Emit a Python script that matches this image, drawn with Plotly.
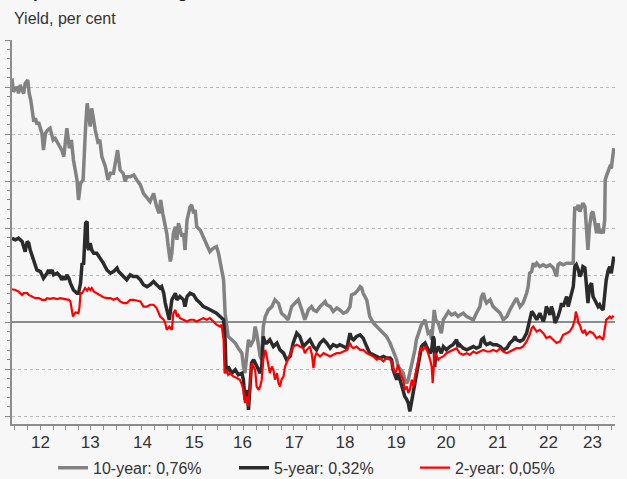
import plotly.graph_objects as go
import pandas as pd

# ---------------- data (decimal years, yields in per cent) ----------------
t10 = [2011.94, 2011.97, 2012.04, 2012.07, 2012.10, 2012.17, 2012.20, 2012.25, 2012.28, 2012.31,
       2012.37, 2012.40, 2012.43, 2012.47, 2012.53, 2012.56, 2012.60, 2012.64, 2012.69, 2012.75,
       2012.79, 2012.86, 2012.92, 2012.96, 2013.02, 2013.07, 2013.11, 2013.15, 2013.19, 2013.22,
       2013.25, 2013.29, 2013.34, 2013.36, 2013.39, 2013.42, 2013.45, 2013.48, 2013.51, 2013.55,
       2013.58, 2013.63, 2013.67, 2013.71, 2013.78, 2013.83, 2013.88, 2013.94, 2013.97, 2014.02,
       2014.07, 2014.13, 2014.17, 2014.20, 2014.27, 2014.34, 2014.40, 2014.47, 2014.53, 2014.60,
       2014.66, 2014.73, 2014.79, 2014.84, 2014.87, 2014.91, 2014.95, 2014.99, 2015.02, 2015.06,
       2015.09, 2015.12, 2015.16, 2015.19, 2015.22, 2015.29, 2015.32, 2015.35, 2015.39, 2015.45,
       2015.48, 2015.52, 2015.55, 2015.58, 2015.65, 2015.71, 2015.78, 2015.84, 2015.91, 2015.97,
       2016.01, 2016.04, 2016.07, 2016.11, 2016.14, 2016.17, 2016.20, 2016.27, 2016.34, 2016.40,
       2016.47, 2016.50, 2016.53, 2016.57, 2016.60, 2016.63, 2016.70, 2016.73, 2016.76, 2016.80,
       2016.83, 2016.86, 2016.89, 2016.93, 2016.99, 2017.06, 2017.12, 2017.19, 2017.25, 2017.32,
       2017.38, 2017.45, 2017.52, 2017.58, 2017.65, 2017.71, 2017.78, 2017.84, 2017.88, 2017.94,
       2018.01, 2018.08, 2018.11, 2018.14, 2018.21, 2018.27, 2018.34, 2018.40, 2018.47, 2018.54,
       2018.60, 2018.63, 2018.70, 2018.76, 2018.80, 2018.83, 2018.86, 2018.93, 2018.99, 2019.06,
       2019.13, 2019.19, 2019.26, 2019.32, 2019.39, 2019.45, 2019.52, 2019.55, 2019.59, 2019.65,
       2019.68, 2019.72, 2019.75, 2019.78, 2019.82, 2019.85, 2019.88, 2019.91, 2019.95, 2019.98,
       2020.01, 2020.04, 2020.08, 2020.11, 2020.14, 2020.18, 2020.21, 2020.24, 2020.26, 2020.29,
       2020.34, 2020.37, 2020.40, 2020.44, 2020.47, 2020.50, 2020.54, 2020.60, 2020.67, 2020.73,
       2020.77, 2020.83, 2020.90, 2020.96, 2021.03, 2021.09, 2021.16, 2021.19, 2021.23, 2021.26,
       2021.29, 2021.36, 2021.42, 2021.49, 2021.56, 2021.62, 2021.69, 2021.75, 2021.82, 2021.85,
       2021.88, 2021.95, 2022.01, 2022.08, 2022.11, 2022.14, 2022.18, 2022.21, 2022.24, 2022.28,
       2022.34, 2022.41, 2022.47, 2022.54, 2022.61, 2022.67, 2022.70, 2022.74, 2022.80, 2022.87,
       2022.93, 2023.00, 2023.02, 2023.03, 2023.06, 2023.10, 2023.13, 2023.19, 2023.23, 2023.26,
       2023.29, 2023.32, 2023.36, 2023.39, 2023.42, 2023.46, 2023.49, 2023.52, 2023.55, 2023.59,
       2023.62, 2023.63, 2023.65, 2023.69, 2023.72, 2023.75, 2023.78, 2023.80]
y10 = [1.037, 0.980, 1.002, 0.973, 1.009, 0.973, 1.016, 1.030, 0.973, 0.945,
       0.853, 0.867, 0.846, 0.846, 0.803, 0.732, 0.803, 0.817, 0.825, 0.775,
       0.782, 0.754, 0.732, 0.704, 0.825, 0.740, 0.775, 0.690, 0.647, 0.605,
       0.520, 0.591, 0.605, 0.718, 0.832, 0.931, 0.874, 0.832, 0.910, 0.846,
       0.817, 0.768, 0.775, 0.704, 0.661, 0.605, 0.633, 0.633, 0.676, 0.732,
       0.647, 0.633, 0.598, 0.619, 0.619, 0.626, 0.605, 0.584, 0.548, 0.527,
       0.513, 0.548, 0.491, 0.463, 0.520, 0.463, 0.421, 0.378, 0.321, 0.258,
       0.293, 0.378, 0.406, 0.350, 0.421, 0.364, 0.378, 0.307, 0.435, 0.491,
       0.499, 0.463, 0.477, 0.406, 0.392, 0.364, 0.336, 0.300, 0.315, 0.321,
       0.293, 0.258, 0.222, 0.180, 0.038, -0.019, -0.061, -0.075, -0.089, -0.111,
       -0.132, -0.189, -0.217, -0.132, -0.075, -0.104, -0.075, -0.019, -0.047, -0.104,
       -0.146, -0.160, -0.019, 0.024, 0.052, 0.066, 0.095, 0.080, 0.038, 0.024,
       0.010, 0.066, 0.081, 0.095, 0.052, 0.010, 0.052, 0.066, 0.052, 0.045,
       0.066, 0.081, 0.088, 0.074, 0.066, 0.045, 0.060, 0.052, 0.038, 0.045,
       0.066, 0.116, 0.123, 0.137, 0.151, 0.145, 0.123, 0.095, 0.024, -0.004,
       -0.019, -0.033, -0.047, -0.061, -0.089, -0.118, -0.160, -0.189, -0.203, -0.217,
       -0.245, -0.260, -0.245, -0.217, -0.189, -0.160, -0.118, -0.075, -0.047, -0.026,
       -0.011, -0.004, 0.010, -0.019, -0.047, -0.040, -0.075, -0.004, 0.052, 0.010,
       -0.004, -0.026, -0.047, 0.010, 0.024, 0.031, 0.045, 0.031, 0.038, 0.024,
       0.031, 0.038, 0.024, 0.017, 0.010, 0.038, 0.066, 0.109, 0.123, 0.095,
       0.081, 0.095, 0.066, 0.052, 0.038, 0.010, 0.024, 0.052, 0.081, 0.095,
       0.102, 0.066, 0.081, 0.123, 0.151, 0.208, 0.215, 0.251, 0.236, 0.251,
       0.236, 0.244, 0.236, 0.244, 0.230, 0.194, 0.244, 0.251, 0.244, 0.251,
       0.251, 0.251, 0.435, 0.491, 0.477, 0.499, 0.470, 0.506, 0.491, 0.364,
       0.307, 0.406, 0.463, 0.470, 0.421, 0.378, 0.421, 0.378, 0.392, 0.378,
       0.435, 0.605, 0.619, 0.640, 0.661, 0.655, 0.704, 0.740]

t5 = [2011.94, 2012.01, 2012.07, 2012.14, 2012.17, 2012.20, 2012.24, 2012.27, 2012.30, 2012.37,
      2012.43, 2012.50, 2012.56, 2012.63, 2012.66, 2012.69, 2012.73, 2012.76, 2012.83, 2012.89,
      2012.92, 2012.96, 2012.99, 2013.02, 2013.06, 2013.09, 2013.15, 2013.22, 2013.25, 2013.29,
      2013.32, 2013.35, 2013.39, 2013.42, 2013.43, 2013.45, 2013.48, 2013.51, 2013.55, 2013.61,
      2013.68, 2013.74, 2013.81, 2013.88, 2013.94, 2014.01, 2014.04, 2014.07, 2014.14, 2014.20,
      2014.27, 2014.33, 2014.40, 2014.47, 2014.53, 2014.60, 2014.66, 2014.73, 2014.79, 2014.86,
      2014.89, 2014.93, 2014.96, 2014.99, 2015.04, 2015.09, 2015.12, 2015.16, 2015.19, 2015.25,
      2015.32, 2015.35, 2015.39, 2015.45, 2015.52, 2015.58, 2015.65, 2015.71, 2015.78, 2015.84,
      2015.91, 2015.97, 2016.04, 2016.11, 2016.14, 2016.16, 2016.20, 2016.27, 2016.34, 2016.40,
      2016.47, 2016.50, 2016.53, 2016.57, 2016.60, 2016.63, 2016.66, 2016.70, 2016.73, 2016.76,
      2016.80, 2016.83, 2016.86, 2016.89, 2016.93, 2016.96, 2017.02, 2017.09, 2017.16, 2017.22,
      2017.29, 2017.35, 2017.42, 2017.48, 2017.55, 2017.61, 2017.68, 2017.75, 2017.81, 2017.88,
      2017.94, 2018.01, 2018.08, 2018.14, 2018.21, 2018.27, 2018.34, 2018.40, 2018.47, 2018.54,
      2018.60, 2018.63, 2018.67, 2018.73, 2018.80, 2018.86, 2018.93, 2018.99, 2019.06, 2019.13,
      2019.19, 2019.26, 2019.32, 2019.39, 2019.42, 2019.45, 2019.49, 2019.52, 2019.55, 2019.59,
      2019.62, 2019.65, 2019.68, 2019.72, 2019.75, 2019.78, 2019.82, 2019.85, 2019.88, 2019.91,
      2019.95, 2019.98, 2020.01, 2020.04, 2020.08, 2020.11, 2020.14, 2020.18, 2020.21, 2020.24,
      2020.26, 2020.27, 2020.29, 2020.34, 2020.37, 2020.40, 2020.44, 2020.47, 2020.50, 2020.57,
      2020.63, 2020.70, 2020.73, 2020.76, 2020.83, 2020.90, 2020.96, 2021.03, 2021.09, 2021.16,
      2021.19, 2021.23, 2021.26, 2021.29, 2021.36, 2021.42, 2021.49, 2021.56, 2021.62, 2021.69,
      2021.75, 2021.82, 2021.85, 2021.88, 2021.95, 2022.01, 2022.08, 2022.11, 2022.14, 2022.18,
      2022.21, 2022.24, 2022.28, 2022.34, 2022.41, 2022.44, 2022.47, 2022.50, 2022.54, 2022.57,
      2022.61, 2022.64, 2022.67, 2022.70, 2022.74, 2022.77, 2022.80, 2022.84, 2022.87, 2022.90,
      2022.93, 2022.96, 2023.00, 2023.03, 2023.06, 2023.10, 2023.13, 2023.16, 2023.19, 2023.23,
      2023.26, 2023.29, 2023.32, 2023.36, 2023.39, 2023.42, 2023.46, 2023.49, 2023.52, 2023.55,
      2023.59, 2023.62, 2023.63, 2023.65, 2023.69, 2023.72, 2023.75, 2023.78, 2023.80]
y5 = [0.357, 0.350, 0.357, 0.343, 0.321, 0.300, 0.343, 0.336, 0.307, 0.265,
      0.222, 0.215, 0.187, 0.208, 0.222, 0.208, 0.222, 0.201, 0.208, 0.194,
      0.180, 0.194, 0.180, 0.201, 0.187, 0.166, 0.137, 0.123, 0.123, 0.166,
      0.251, 0.244, 0.421, 0.428, 0.321, 0.307, 0.336, 0.307, 0.293, 0.293,
      0.272, 0.251, 0.222, 0.208, 0.215, 0.230, 0.215, 0.208, 0.194, 0.180,
      0.201, 0.194, 0.194, 0.180, 0.159, 0.151, 0.159, 0.173, 0.159, 0.145,
      0.151, 0.123, 0.081, 0.052, 0.010, 0.095, 0.109, 0.123, 0.095, 0.109,
      0.095, 0.066, 0.109, 0.123, 0.116, 0.095, 0.081, 0.066, 0.060, 0.052,
      0.045, 0.038, 0.024, 0.010, -0.075, -0.217, -0.189, -0.217, -0.203, -0.224,
      -0.217, -0.245, -0.330, -0.288, -0.373, -0.274, -0.174, -0.160, -0.174, -0.189,
      -0.203, -0.217, -0.189, -0.061, -0.089, -0.089, -0.075, -0.104, -0.089, -0.118,
      -0.132, -0.160, -0.146, -0.089, -0.047, -0.061, -0.104, -0.089, -0.075, -0.104,
      -0.118, -0.089, -0.075, -0.089, -0.111, -0.096, -0.104, -0.096, -0.104, -0.111,
      -0.047, -0.068, -0.075, -0.061, -0.054, -0.068, -0.104, -0.132, -0.139, -0.146,
      -0.153, -0.146, -0.153, -0.153, -0.160, -0.203, -0.231, -0.245, -0.217, -0.245,
      -0.274, -0.288, -0.316, -0.330, -0.344, -0.380, -0.330, -0.302, -0.245, -0.217,
      -0.160, -0.132, -0.104, -0.096, -0.089, -0.104, -0.118, -0.132, -0.118, -0.061,
      -0.075, -0.190, -0.132, -0.104, -0.118, -0.132, -0.104, -0.111, -0.118, -0.104,
      -0.096, -0.075, -0.104, -0.096, -0.111, -0.118, -0.111, -0.104, -0.111, -0.104,
      -0.075, -0.068, -0.089, -0.096, -0.089, -0.096, -0.096, -0.104, -0.118, -0.111,
      -0.089, -0.075, -0.061, -0.075, -0.082, -0.075, -0.047, -0.019, 0.024, 0.045,
      0.038, 0.024, 0.010, 0.038, 0.003, 0.024, 0.066, 0.052, 0.031, 0.066,
      0.038, -0.004, 0.010, 0.024, 0.052, 0.081, 0.066, 0.095, 0.109, 0.066,
      0.095, 0.123, 0.151, 0.236, 0.244, 0.222, 0.194, 0.208, 0.236, 0.230,
      0.137, 0.081, 0.151, 0.166, 0.109, 0.095, 0.081, 0.066, 0.074, 0.060,
      0.052, 0.109, 0.137, 0.180, 0.222, 0.236, 0.208, 0.265, 0.279]

t2 = [2011.94, 2012.01, 2012.07, 2012.14, 2012.17, 2012.24, 2012.27, 2012.33, 2012.40, 2012.47,
      2012.53, 2012.60, 2012.63, 2012.69, 2012.76, 2012.83, 2012.89, 2012.96, 2013.02, 2013.06,
      2013.09, 2013.11, 2013.14, 2013.19, 2013.25, 2013.27, 2013.29, 2013.32, 2013.38, 2013.42,
      2013.45, 2013.48, 2013.51, 2013.55, 2013.61, 2013.68, 2013.74, 2013.81, 2013.88, 2013.94,
      2014.01, 2014.07, 2014.14, 2014.20, 2014.27, 2014.33, 2014.40, 2014.47, 2014.53, 2014.60,
      2014.66, 2014.73, 2014.79, 2014.86, 2014.93, 2014.96, 2014.99, 2015.04, 2015.09, 2015.12,
      2015.16, 2015.19, 2015.22, 2015.25, 2015.32, 2015.39, 2015.45, 2015.52, 2015.58, 2015.65,
      2015.71, 2015.78, 2015.84, 2015.91, 2015.97, 2016.04, 2016.07, 2016.11, 2016.13, 2016.17,
      2016.20, 2016.24, 2016.30, 2016.37, 2016.43, 2016.47, 2016.50, 2016.53, 2016.57, 2016.60,
      2016.63, 2016.66, 2016.70, 2016.73, 2016.76, 2016.80, 2016.83, 2016.86, 2016.89, 2016.93,
      2016.96, 2016.99, 2017.02, 2017.06, 2017.09, 2017.12, 2017.16, 2017.19, 2017.22, 2017.25,
      2017.29, 2017.32, 2017.35, 2017.42, 2017.48, 2017.55, 2017.61, 2017.68, 2017.71, 2017.75,
      2017.81, 2017.85, 2017.88, 2017.91, 2017.94, 2018.01, 2018.08, 2018.14, 2018.21, 2018.27,
      2018.34, 2018.40, 2018.47, 2018.54, 2018.60, 2018.63, 2018.67, 2018.73, 2018.80, 2018.86,
      2018.93, 2018.99, 2019.06, 2019.13, 2019.19, 2019.26, 2019.32, 2019.39, 2019.42, 2019.45,
      2019.49, 2019.52, 2019.55, 2019.59, 2019.62, 2019.65, 2019.68, 2019.72, 2019.75, 2019.78,
      2019.82, 2019.85, 2019.88, 2019.91, 2019.95, 2019.98, 2020.01, 2020.04, 2020.08, 2020.11,
      2020.14, 2020.18, 2020.21, 2020.23, 2020.25, 2020.27, 2020.30, 2020.34, 2020.37, 2020.44,
      2020.50, 2020.57, 2020.63, 2020.70, 2020.76, 2020.83, 2020.90, 2020.96, 2021.03, 2021.09,
      2021.16, 2021.23, 2021.29, 2021.36, 2021.42, 2021.49, 2021.56, 2021.62, 2021.69, 2021.75,
      2021.82, 2021.88, 2021.95, 2022.01, 2022.08, 2022.14, 2022.18, 2022.21, 2022.28, 2022.34,
      2022.41, 2022.47, 2022.54, 2022.61, 2022.67, 2022.74, 2022.80, 2022.87, 2022.93, 2022.99,
      2023.03, 2023.05, 2023.08, 2023.10, 2023.13, 2023.16, 2023.19, 2023.23, 2023.26, 2023.33,
      2023.39, 2023.46, 2023.52, 2023.59, 2023.62, 2023.65, 2023.69, 2023.72, 2023.75, 2023.78,
      2023.80]
y2 = [0.140, 0.137, 0.130, 0.116, 0.123, 0.123, 0.116, 0.109, 0.102, 0.102,
      0.095, 0.095, 0.102, 0.099, 0.102, 0.098, 0.102, 0.099, 0.098, 0.095,
      0.088, 0.052, 0.024, 0.041, 0.038, 0.066, 0.123, 0.123, 0.145, 0.134,
      0.145, 0.137, 0.145, 0.130, 0.123, 0.116, 0.106, 0.102, 0.102, 0.095,
      0.102, 0.088, 0.081, 0.081, 0.095, 0.095, 0.092, 0.088, 0.066, 0.066,
      0.074, 0.074, 0.060, 0.024, 0.010, -0.004, -0.033, -0.019, -0.033, 0.038,
      0.052, 0.024, 0.031, 0.017, 0.010, 0.003, 0.010, 0.010, 0.003, 0.010,
      0.017, 0.010, 0.017, 0.003, -0.011, -0.019, -0.011, -0.075, -0.217, -0.203,
      -0.224, -0.217, -0.231, -0.238, -0.245, -0.266, -0.288, -0.344, -0.316, -0.359,
      -0.259, -0.174, -0.189, -0.203, -0.274, -0.288, -0.274, -0.245, -0.160, -0.118,
      -0.146, -0.189, -0.217, -0.189, -0.203, -0.245, -0.217, -0.259, -0.274, -0.245,
      -0.231, -0.189, -0.174, -0.132, -0.104, -0.096, -0.104, -0.111, -0.132, -0.118,
      -0.104, -0.139, -0.196, -0.146, -0.132, -0.146, -0.132, -0.139, -0.146, -0.139,
      -0.132, -0.132, -0.125, -0.118, -0.089, -0.104, -0.111, -0.104, -0.118, -0.118,
      -0.132, -0.139, -0.146, -0.160, -0.153, -0.167, -0.153, -0.160, -0.167, -0.196,
      -0.217, -0.203, -0.181, -0.217, -0.231, -0.245, -0.288, -0.274, -0.302, -0.288,
      -0.245, -0.274, -0.231, -0.203, -0.160, -0.118, -0.111, -0.118, -0.104, -0.118,
      -0.132, -0.160, -0.189, -0.259, -0.189, -0.132, -0.139, -0.160, -0.153, -0.146,
      -0.132, -0.125, -0.118, -0.111, -0.132, -0.139, -0.132, -0.139, -0.125, -0.132,
      -0.125, -0.118, -0.125, -0.125, -0.118, -0.125, -0.111, -0.125, -0.132, -0.125,
      -0.118, -0.111, -0.111, -0.104, -0.082, -0.054, -0.026, -0.019, -0.040, -0.033,
      -0.047, -0.068, -0.061, -0.075, -0.089, -0.082, -0.054, -0.047, -0.040, -0.019,
      0.010, 0.045, 0.024, -0.004, -0.011, -0.033, -0.047, -0.033, -0.054, -0.040,
      -0.047, -0.068, -0.061, -0.075, -0.040, 0.010, 0.017, 0.024, 0.017, 0.024,
      0.021]

series_names = ["10-year: 0,76%", "5-year: 0,32%", "2-year: 0,05%"]
series_colors = ["#828282", "#2b2b2b", "#ff0000"]

tick_pos = [2012.5, 2013.48, 2014.51, 2015.53, 2016.48, 2017.5, 2018.5, 2019.51,
            2020.49, 2021.51, 2022.51, 2023.38]
tick_text = ["12", "13", "14", "15", "16", "17", "18", "19", "20", "21", "22", "23"]
x_range = [2011.941, 2023.823]
y_range = [-0.4335, 1.2005]

title_text = "Japanese rates rising"
subtitle_text = "Yield, per cent"


def to_date(t):
    y = int(t)
    frac = t - y
    start = pd.Timestamp(year=y, month=1, day=1)
    end = pd.Timestamp(year=y + 1, month=1, day=1)
    return start + (end - start) * frac


def dates(ts):
    return [to_date(t) for t in ts]


FONT = "Liberation Sans, Arial, sans-serif"
AX = "#8c8c8c"
BG = "#f7f7f7"

fig = go.Figure()
for ts, ys, name, col, w in [(t10, y10, series_names[0], series_colors[0], 3.5),
                             (t5, y5, series_names[1], series_colors[1], 3.5),
                             (t2, y2, series_names[2], series_colors[2], 2.2)]:
    fig.add_trace(go.Scatter(x=dates(ts), y=ys, mode="lines", name=name,
                             line=dict(color=col, width=w), hoverinfo="skip"))

fig.update_layout(
    width=627, height=479, autosize=False,
    margin=dict(l=12, r=12, t=40, b=55, pad=0, autoexpand=False),
    paper_bgcolor=BG, plot_bgcolor=BG,
    font=dict(family=FONT, size=16, color="#333333"),
    showlegend=True,
    legend=dict(orientation="h", x=0.068, xanchor="left", y=-0.114, yanchor="middle",
                font=dict(size=16, color="#333333"), bgcolor="rgba(0,0,0,0)",
                entrywidth=136, entrywidthmode="pixels", borderwidth=0),
    xaxis=dict(type="date", range=[to_date(x_range[0]), to_date(x_range[1])],
               tickmode="array", tickvals=dates(tick_pos), ticktext=tick_text,
               ticks="outside", ticklen=2, tickcolor="rgba(0,0,0,0)",
               showline=True, linecolor=AX, linewidth=1.5,
               showgrid=False, zeroline=False,
               tickfont=dict(size=17, color="#333333"),
               minor=dict(ticks="outside", dtick="M3", tick0="2012-01-01",
                          ticklen=4, tickcolor=AX, showgrid=False)),
    yaxis=dict(range=y_range, tick0=0, dtick=0.2, showticklabels=False,
               ticks="outside", ticklen=5, tickcolor=AX,
               showline=True, linecolor=AX, linewidth=1.5,
               showgrid=True, gridcolor="#b8b8b8", griddash="dot", gridwidth=1,
               zeroline=True, zerolinecolor=AX, zerolinewidth=1.5,
               minor=dict(dtick=0.04, tick0=0, ticks="outside", ticklen=3,
                          tickcolor=AX, showgrid=False)),
    annotations=[
        dict(text="<b>" + title_text + "</b>", xref="paper", yref="paper",
             x=0, y=1.1235, xanchor="left", yanchor="middle", showarrow=False,
             font=dict(size=17, color="#222222", family=FONT)),
        dict(text=subtitle_text, xref="paper", yref="paper",
             x=0, y=1.056, xanchor="left", yanchor="middle", showarrow=False,
             font=dict(size=16, color="#333333", family=FONT)),
    ],
)

fig.write_html("out.html",
               config={"displayModeBar": False},
               post_script="document.body.style.margin='0';"
                           "document.body.style.background='" + BG + "';")
